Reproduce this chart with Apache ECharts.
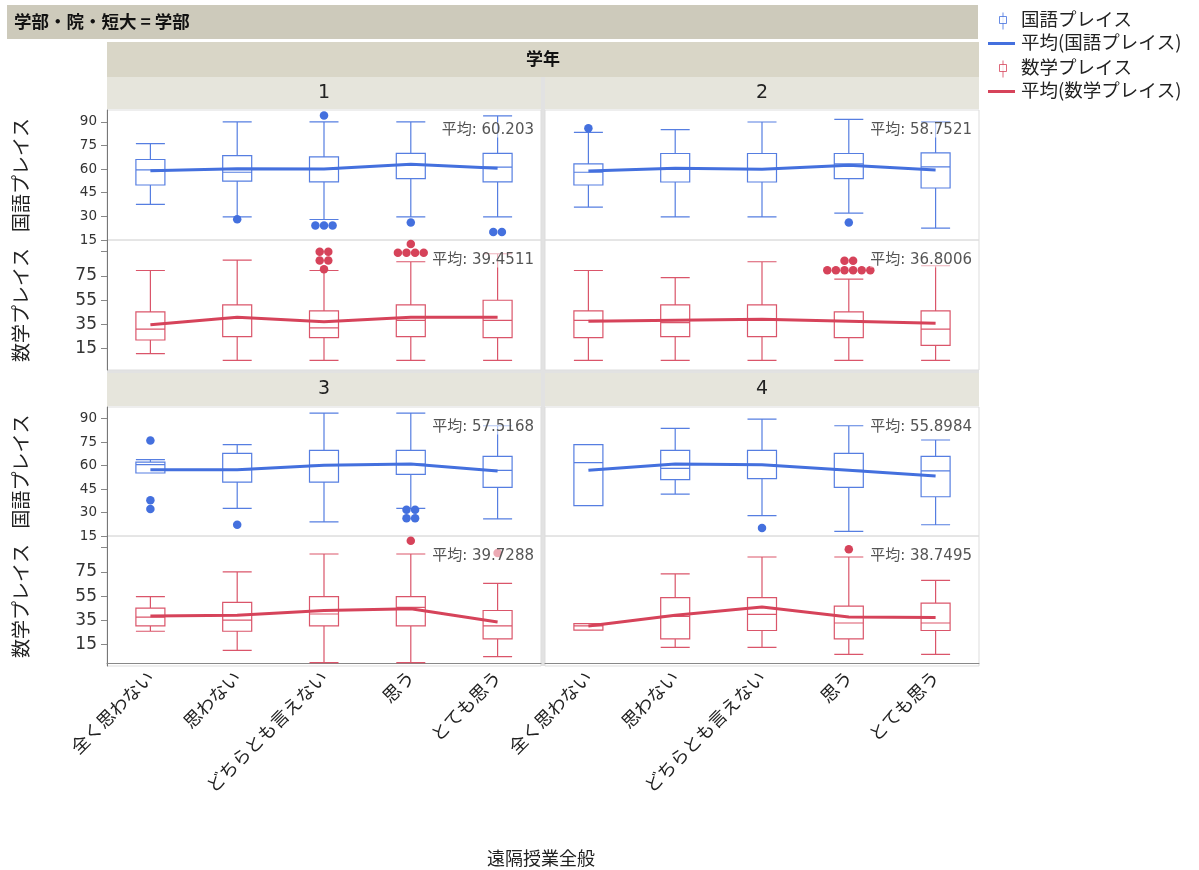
<!DOCTYPE html>
<html><head><meta charset="utf-8">
<script src="https://cdn.jsdelivr.net/npm/echarts@6/dist/echarts.min.js"></script>
<style>html,body{margin:0;padding:0;background:#fff}#c{width:1199px;height:870px}</style>
</head><body><div id="c"></div>
<script>
// ---------- data ----------
const categories = ['全く思わない','思わない','どちらとも言えない','思う','とても思う'];
const panelNames = ['1','2','3','4'];
const kokugoTicks = [15,30,45,60,75,90];
const sugakuTicks = [15,35,55,75,95];
const sugakuLabels = [15,35,55,75];

// [min, Q1, median, Q3, max] per category
const kokugoBox1 = [[37.6,49.9,59.5,66.1,76.2],[29.7,52.3,58,68.5,90],[28,51.9,60,67.8,90],[29.7,54,62.7,70,90],[29.7,51.9,61.2,70,93.8]];
const kokugoBox2 = [[35.9,49.9,58,63.3,83.3],[29.7,51.8,60.1,69.9,85],[29.7,51.8,60.1,69.9,89.9],[32,53.9,63.3,69.9,91.6],[22.5,48,61.4,70.3,89.9]];
const kokugoBox3 = [[55.3,55.3,60.6,62.3,63.8],[32.7,49.5,57.4,67.8,73.4],[24,49.5,60.2,69.8,93.6],[32.7,54.4,61,69.8,93.6],[25.9,46.1,57,65.9,85.5]];
const kokugoBox4 = [[34.4,34.4,61.9,73.4,73.4],[41.8,51,58.3,69.8,83.8],[28,51.7,60.6,69.8,89.8],[18,46.1,57,67.8,85.5],[22.2,40.1,56.6,65.9,76.4]];
const sugakuBox1 = [[10.9,22.2,31.2,45.3,79.4],[5.4,24.9,40.6,51.1,88],[5.4,24.1,32.1,46.1,79.4],[5.4,24.9,38.4,51.1,86.6],[5.4,24.1,38.4,54.9,93.2]];
const sugakuBox2 = [[5.4,24.1,38.4,46.1,79.4],[5.4,24.9,36.5,51.1,73.6],[5.4,24.9,39.2,51.1,86.6],[5.4,24.1,37.6,45.3,72.3],[5.4,17.8,31.2,46.1,83.3]];
const sugakuBox3 = [[26.1,30.5,37.8,45.1,54.6],[10.4,26.1,35.3,49.8,75],[0.3,30.5,40.3,54.6,89.7],[0.3,30.5,45.7,54.6,89.7],[5.2,19.9,30.5,43.2,65.5]];
const sugakuBox4 = [[27,27,30.5,32.4,32.4],[12.8,19.9,38.4,53.8,73.4],[12.8,26.7,40,53.8,87.2],[7.1,19.9,32.9,46.8,87.2],[7.1,26.7,32.9,49.2,68]];

const kokugoMean1 = [58.9,60.2,60.0,63.0,60.6];
const kokugoMean2 = [58.8,60.5,59.9,62.4,59.5];
const kokugoMean3 = [57.4,57.4,60.2,61.0,56.6];
const kokugoMean4 = [57.0,61.0,60.6,57.0,53.4];
const sugakuMean1 = [34.8,40.9,37.3,40.9,40.9];
const sugakuMean2 = [37.6,38.4,39.2,37.6,35.9];
const sugakuMean3 = [38.6,39.2,43.2,44.6,33.7];
const sugakuMean4 = [30.5,39.2,46.0,37.8,37.5];

const kokugoOverall = ['60.203','58.7521','57.5168','55.8984'];
const sugakuOverall = ['39.4511','36.8006','39.7288','38.7495'];

// outliers: [panel, category index, value, count]
const kokugoOutliers = [
  [0,1,28.2,1],[0,2,94,1],[0,2,24.2,3],[0,3,26.1,1],[0,4,20.1,2],
  [1,0,85.9,1],[1,3,26.1,1],
  [2,0,76.1,1],[2,0,37.8,1],[2,0,32.3,1],[2,1,22.2,1],[2,3,31.8,2],[2,3,26.3,2],
  [3,2,20.1,1]
];
const sugakuOutliers = [
  [0,2,94.8,2],[0,2,87.7,2],[0,2,80.5,1],[0,3,94,4],[0,3,101.2,1],
  [1,3,87.4,2],[1,3,79.7,6],
  [2,3,100.5,1],[2,4,90.5,1],
  [3,3,93.5,1]
];

// ---------- layout & style ----------
const FONT = "'DejaVu Sans','Noto Sans CJK JP',sans-serif";
const JFONT = "'Noto Sans CJK JP','DejaVu Sans',sans-serif";
const BLUE = '#4470de', RED = '#d6435a';
const COL_LEFT = [107, 545], PANEL_W = 434;
const ROW_TOP = [110, 407];
const SUB_H = [[130,130],[129,130]];

const kokugoBoxes = [kokugoBox1,kokugoBox2,kokugoBox3,kokugoBox4];
const sugakuBoxes = [sugakuBox1,sugakuBox2,sugakuBox3,sugakuBox4];
const kokugoMeans = [kokugoMean1,kokugoMean2,kokugoMean3,kokugoMean4];
const sugakuMeans = [sugakuMean1,sugakuMean2,sugakuMean3,sugakuMean4];

const grids=[], xAxes=[], yAxes=[], series=[], graphics=[];

function outlierData(list, p){
  const out=[];
  list.filter(o=>o[0]===p).forEach(o=>{
    for(let k=0;k<o[3];k++){
      out.push({value:[o[1],o[2]], symbolOffset:[(k-(o[3]-1)/2)*8.6,0]});
    }
  });
  return out;
}

for(let p=0;p<4;p++){
  const col=p%2, row=p>>1;
  const left=COL_LEFT[col], top=ROW_TOP[row];
  const h0=SUB_H[row][0], h1=SUB_H[row][1];
  [0,1].forEach(s=>{
    const gi=grids.length;
    const gTop = s===0 ? top : top+h0;
    const gH = s===0 ? h0 : h1;
    grids.push({left:left, top:gTop, width:PANEL_W, height:gH, show:true, borderColor:'#dddddd', borderWidth:1});
    const isBottom = (row===1 && s===1);
    xAxes.push({type:'category', gridIndex:gi, data:categories, boundaryGap:true,
      axisTick:{show:false},
      axisLine:{show:isBottom, lineStyle:{color:'#888',width:1}},
      axisLabel:{show:isBottom, rotate:45, interval:0, fontSize:18, color:'#222', margin:8, fontFamily:JFONT},
      splitLine:{show:false}});
    const ko = s===0;
    yAxes.push({type:'value', gridIndex:gi,
      min: ko?15:-2.5, max: ko?97.5:104.5,
      axisLine:{show:col===0, lineStyle:{color:'#777'}},
      axisTick:{show:col===0, length:6, customValues: ko?kokugoTicks:sugakuTicks, lineStyle:{color:'#888'}},
      axisLabel:{show:col===0, customValues: ko?kokugoTicks:sugakuLabels, fontSize: ko?13.5:17, color:'#333', margin:10, fontFamily:FONT},
      splitLine:{show:false},
      name: col===0 ? (ko?'国語プレイス':'数学プレイス') : '',
      nameLocation:'middle', nameRotate:90, nameGap:77,
      nameTextStyle:{fontSize:19, color:'#222', fontFamily:JFONT}});
    const color = ko?BLUE:RED;
    const boxes = ko?kokugoBoxes[p]:sugakuBoxes[p];
    const means = ko?kokugoMeans[p]:sugakuMeans[p];
    const outs = ko?kokugoOutliers:sugakuOutliers;
    series.push({type:'boxplot', name: ko?'国語プレイス':'数学プレイス', xAxisIndex:gi, yAxisIndex:gi,
      data: boxes, boxWidth:[29,29], silent:true, z:2,
      itemStyle:{color:'rgba(255,255,255,0)', borderColor:color, borderWidth:1.2, opacity:0.9}});
    series.push({type:'scatter', xAxisIndex:gi, yAxisIndex:gi, data: outlierData(outs,p),
      symbolSize:8.5, itemStyle:{color:color, opacity:1}, silent:true, z:3});
    series.push({type:'line', name: ko?'平均(国語プレイス)':'平均(数学プレイス)', xAxisIndex:gi, yAxisIndex:gi,
      data: means, symbol:'none', lineStyle:{color:color, width:3}, itemStyle:{color:color}, silent:true, z:4});
    graphics.push({type:'text', z:50, style:{
      text:'平均: '+(ko?kokugoOverall[p]:sugakuOverall[p]),
      x:left+PANEL_W-7, y:gTop+20, align:'right', verticalAlign:'middle',
      fill:'#555', font:'15px '+FONT, backgroundColor:'rgba(255,255,255,0.55)'}});
  });
  // panel header
  const hTop = row===0 ? 77 : 373;
  graphics.push({type:'rect', z:-1, shape:{x:left, y:hTop, width:PANEL_W, height:(row===0?32:33)}, style:{fill:'#e6e5dc'}});
  graphics.push({type:'text', z:5, style:{text:panelNames[p], x:left+PANEL_W/2, y:hTop+16.5, align:'center', verticalAlign:'middle', fill:'#222', font:'19px '+FONT}});
}

// banners
graphics.push({type:'rect', z:-1, shape:{x:7,y:5,width:971,height:34}, style:{fill:'#cdcabb'}});
graphics.push({type:'text', z:5, style:{text:'学部・院・短大 = 学部', x:14, y:21, align:'left', verticalAlign:'middle', fill:'#111', font:'bold 17.5px '+JFONT}});
graphics.push({type:'rect', z:-1, shape:{x:107,y:42,width:872,height:35}, style:{fill:'#d9d6c7'}});
graphics.push({type:'text', z:5, style:{text:'学年', x:543, y:59, align:'center', verticalAlign:'middle', fill:'#111', font:'bold 17px '+JFONT}});
// separators
graphics.push({type:'rect', z:-1, shape:{x:541,y:77,width:4,height:589}, style:{fill:'#e2e2e2'}});
graphics.push({type:'rect', z:-1, shape:{x:107,y:370,width:872,height:3}, style:{fill:'#e2e2e2'}});
// x title
graphics.push({type:'text', z:5, style:{text:'遠隔授業全般', x:541, y:858, align:'center', verticalAlign:'middle', fill:'#222', font:'18px '+JFONT}});

// legend (drawn)
function legendBox(cy, color){
  graphics.push({type:'line', z:5, shape:{x1:1003,y1:cy-7,x2:1003,y2:cy+10}, style:{stroke:color, lineWidth:1, opacity:0.8}});
  graphics.push({type:'rect', z:6, shape:{x:999.5,y:cy-3,width:7,height:7}, style:{fill:'#fff', stroke:color, lineWidth:1, opacity:0.8}});
}
function legendLine(cy, color){
  graphics.push({type:'line', z:5, shape:{x1:988,y1:cy,x2:1015,y2:cy}, style:{stroke:color, lineWidth:3}});
}
const legendItems = [['国語プレイス','box',BLUE,18.5],['平均(国語プレイス)','line',BLUE,42],['数学プレイス','box',RED,66.5],['平均(数学プレイス)','line',RED,90]];
legendItems.forEach(it=>{
  if(it[1]==='box') legendBox(it[3]+1, it[2]); else legendLine(it[3]+1.5, it[2]);
  graphics.push({type:'text', z:5, style:{text:it[0], x:1021, y:it[3], align:'left', verticalAlign:'middle', fill:'#222', font:'18.5px '+JFONT}});
});

const chart = echarts.init(document.getElementById('c'), null, {renderer:'canvas'});
chart.setOption({
  animation:false,
  textStyle:{fontFamily:FONT},
  grid:grids, xAxis:xAxes, yAxis:yAxes, series:series, graphic:graphics
});
</script></body></html>
